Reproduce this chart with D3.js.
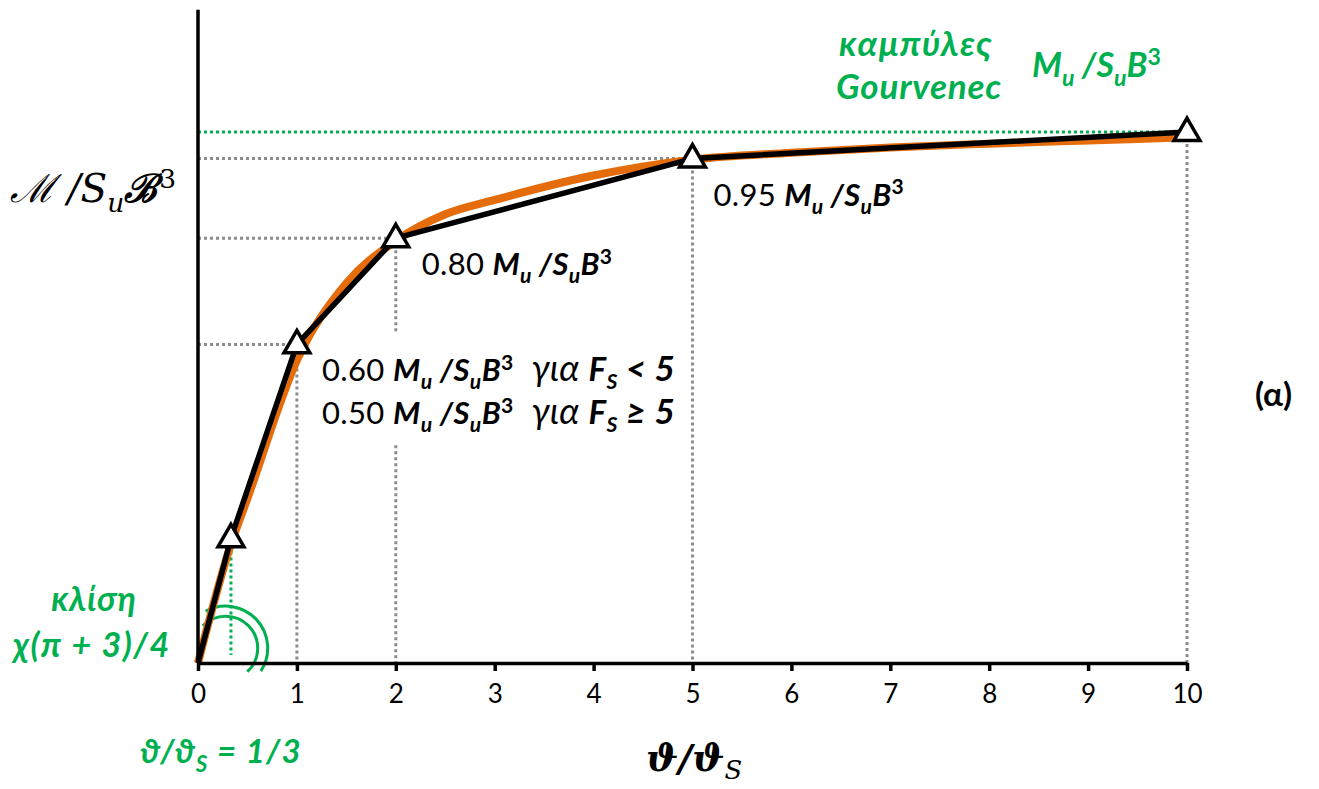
<!DOCTYPE html>
<html>
<head>
<meta charset="utf-8">
<script src="https://cdn.jsdelivr.net/npm/d3@7"></script>
<style>
  html, body { margin: 0; padding: 0; background: #fff; }
  svg { display: block; }
  text { white-space: pre; }
</style>
</head>
<body>
<svg id="chart" width="1319" height="789"></svg>
<script>
// Normalised rotation θ/θS on x, normalised moment M/SuB³ on y
const xTicks = [0, 1, 2, 3, 4, 5, 6, 7, 8, 9, 10];
// simplified multi-linear backbone (black) with its vertices
const backboneX = [0, 1 / 3, 1, 2, 5, 10];
const backboneY = [0, 0.235, 0.60, 0.80, 0.95, 1.00];
const markerX = [1 / 3, 1, 2, 5, 10];
const markerY = [0.235, 0.60, 0.80, 0.95, 1.00];
// Gourvenec curve (orange)
const curveX = [0, 0.33, 0.5, 1, 1.5, 2, 2.5, 3, 4, 5, 6, 7, 8, 9, 10];
const curveY = [0, 0.222, 0.31, 0.57, 0.715, 0.795, 0.845, 0.872, 0.918, 0.948, 0.961, 0.971, 0.978, 0.984, 0.99];
// ultimate capacity level
const ultimateY = 1.0;

const GREEN = "#00b050", ORANGE = "#e46c0a", GREY = "#8c8c8c";
const SANS = "Lato, 'Open Sans', sans-serif";
const SERIF = "'DejaVu Serif', 'Liberation Serif', serif";

const svg = d3.select("#chart");
const x = d3.scaleLinear().domain([0, 10]).range([198, 1187]);
const y = d3.scaleLinear().domain([0, 1]).range([663, 132]);
const yTop = 1.23;

// ---- dotted guide lines ----
const guides = svg.append("g").attr("fill", "none")
  .attr("stroke", GREY).attr("stroke-width", 3).attr("stroke-dasharray", "3,3");
// horizontal guides from the y axis to the vertices at 1, 2, 5
[[1, 0.60], [2, 0.80], [5, 0.95]].forEach(([gx, gy]) => {
  guides.append("line").attr("x1", x(0)).attr("x2", x(gx)).attr("y1", y(gy)).attr("y2", y(gy));
});
// vertical guides down to the x axis
[[1, 0.60, 0], [5, 0.95, 0], [10, 1.0, 0]].forEach(([gx, gy0, gy1]) => {
  guides.append("line").attr("x1", x(gx)).attr("x2", x(gx)).attr("y1", y(gy0)).attr("y2", y(gy1));
});
// the guide at 2 is interrupted by the annotation text
guides.append("line").attr("x1", x(2)).attr("x2", x(2)).attr("y1", y(0.80)).attr("y2", y(0.62));
guides.append("line").attr("x1", x(2)).attr("x2", x(2)).attr("y1", y(0.41)).attr("y2", y(0));

// green dotted lines: ultimate level and θ/θS = 1/3
svg.append("line").attr("x1", x(0)).attr("x2", x(10)).attr("y1", y(ultimateY)).attr("y2", y(ultimateY))
  .attr("stroke", GREEN).attr("stroke-width", 3).attr("stroke-dasharray", "3,3");
svg.append("line").attr("x1", x(1 / 3)).attr("x2", x(1 / 3)).attr("y1", y(0.21)).attr("y2", y(0.015))
  .attr("stroke", GREEN).attr("stroke-width", 3).attr("stroke-dasharray", "3,3");

// ---- green angle arcs for the initial slope ----
const arcCentre = [x(0.28), y(0.028)];
const arcG = svg.append("g").attr("transform", `translate(${arcCentre[0]},${arcCentre[1]})`);
[[32, -0.80, 2.40], [42, -0.50, 2.15]].forEach(([r, a0, a1]) => {
  arcG.append("path")
    .attr("d", d3.arc()({ innerRadius: r, outerRadius: r, startAngle: a0, endAngle: a1 }))
    .attr("fill", "none").attr("stroke", GREEN).attr("stroke-width", 3);
});

// ---- curves ----
const curvePts = curveX.map((v, i) => [v, curveY[i]]);
svg.append("path").datum(curvePts)
  .attr("d", d3.line().x(d => x(d[0])).y(d => y(d[1])).curve(d3.curveMonotoneX))
  .attr("fill", "none").attr("stroke", ORANGE).attr("stroke-width", 8).attr("stroke-linejoin", "round");

const backPts = backboneX.map((v, i) => [v, backboneY[i]]);
svg.append("path").datum(backPts)
  .attr("d", d3.line().x(d => x(d[0])).y(d => y(d[1])))
  .attr("fill", "none").attr("stroke", "#000").attr("stroke-width", 5.5).attr("stroke-linejoin", "round");

// ---- axes ----
svg.append("line").attr("x1", x(0)).attr("x2", x(0)).attr("y1", y(yTop)).attr("y2", y(0))
  .attr("stroke", "#000").attr("stroke-width", 3.5);
const xAxis = d3.axisBottom(x).tickValues(xTicks).tickFormat(d3.format("d")).tickSize(8).tickSizeOuter(0);
const gx = svg.append("g").attr("transform", `translate(0,${y(0)})`).call(xAxis)
  .attr("font-size", 26).attr("font-family", SANS);
gx.select(".domain").attr("stroke", "#000").attr("stroke-width", 3.5);
gx.selectAll(".tick line").attr("stroke", "#000").attr("stroke-width", 3.5);
gx.selectAll(".tick text").style("font-size", "26px").style("font-family", SANS)
  .attr("fill", "#000").attr("y", 22).attr("dy", "0.71em");

// ---- triangle markers ----
const markerPts = markerX.map((v, i) => [v, markerY[i]]);
svg.append("g").selectAll("path").data(markerPts).join("path")
  .attr("transform", d => `translate(${x(d[0])},${y(d[1]) + 1})`)
  .attr("d", d3.symbol().type(d3.symbolTriangle).size(290))
  .attr("fill", "#fff").attr("stroke", "#000").attr("stroke-width", 3.5).attr("stroke-linejoin", "miter");

// ---- text helpers ----
// parts: [text, {b, i, sub, sup, family, size, dx}]
function rich(g, px, py, size, parts, opts = {}) {
  const t = g.append("text").attr("x", px).attr("y", py).attr("font-size", size)
    .attr("font-family", opts.family || SANS).attr("fill", opts.fill || "#000")
    .attr("text-anchor", opts.anchor || "start")
    .attr("letter-spacing", opts.ls || 0);
  let shift = 0;
  parts.forEach(([s, o = {}]) => {
    const target = o.sub ? size * (o.subShift || 0.26) : o.sup ? -size * 0.36 : 0;
    const sp = t.append("tspan").text(s)
      .attr("dy", target - shift)
      .attr("font-weight", o.b ? "bold" : "normal")
      .attr("font-style", o.i ? "italic" : "normal");
    if (o.sub || o.sup) sp.attr("font-size", size * 0.68);
    if (o.size) sp.attr("font-size", o.size);
    if (o.dx) sp.attr("dx", o.dx);
    if (o.family) sp.attr("font-family", o.family);
    shift = target;
  });
  return t;
}
const BI = { b: true, i: true };
const moment = () => [
  ["M", BI], ["u", { b: true, i: true, sub: true }], [" /S", BI],
  ["u", { b: true, i: true, sub: true }], ["B", BI], ["3", { b: true, sup: true }]
];

// vertex annotations
const NOTE = 31;
const forFs = (rel) => [["  για ", { i: true, size: 36 }], ["F", { b: true, i: true, size: 33 }],
  ["S", { b: true, i: true, sub: true }], [rel, { b: true, i: true, size: 35 }]];
rich(svg, x(5) + 21, y(0.95) + 47, NOTE, [["0.95 "], ...moment()], { ls: 0.3 });
rich(svg, x(2) + 26, y(0.80) + 37, NOTE, [["0.80 "], ...moment()], { ls: 0.3 });
rich(svg, x(1) + 25, y(0.60) + 37, NOTE, [["0.60 "], ...moment(), ...forFs(" < 5")], { ls: 0.4 });
rich(svg, x(1) + 25, y(0.60) + 80, NOTE, [["0.50 "], ...moment(), ...forFs(" ≥ 5")], { ls: 0.4 });

// panel tag
rich(svg, 1255, 406, 33, [["(α)", { b: true }]]);

// green notes
rich(svg, 916, 56, 35, [["καμπύλες", BI]], { fill: GREEN, anchor: "middle", ls: 1.5 });
rich(svg, 919, 99, 35, [["Gourvenec", BI]], { fill: GREEN, anchor: "middle", ls: 0.8 });
rich(svg, 1032, 77, 34, [["M", BI], ["u", { b: true, i: true, sub: true }], [" /S", BI],
  ["u", { b: true, i: true, sub: true }], ["B", BI], ["3", { b: true, sup: true }]], { fill: GREEN });
rich(svg, 94, 611, 34, [["κλίση", BI]], { fill: GREEN, anchor: "middle", ls: 0.8 });
rich(svg, 92, 657, 34, [["χ(π + 3)/4", BI]], { fill: GREEN, anchor: "middle", ls: 1.5 });
rich(svg, 140, 763, 33, [["ϑ/ϑ", BI], ["S", { b: true, i: true, sub: true }], [" = 1/3", BI]], { fill: GREEN, ls: 1.2 });

// axis titles
rich(svg, 10, 202, 39, [["ℳ /S", { i: true }], ["u", { i: true, sub: true }], ["ℬ", { i: true, b: true }],
  ["3", { sup: true, dx: 2 }]], { family: SERIF });
rich(svg, 646, 771, 38, [["ϑ/ϑ", BI], ["S", { i: true, sub: true, subShift: 0.2 }]], { family: SERIF });
</script>
</body>
</html>
